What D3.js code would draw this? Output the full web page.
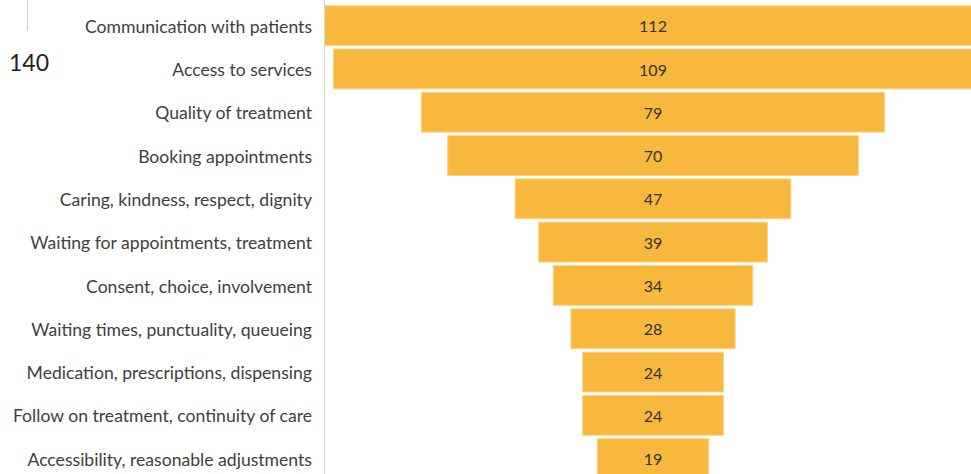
<!DOCTYPE html>
<html>
<head>
<meta charset="utf-8">
<script src="https://cdn.jsdelivr.net/npm/d3@7"></script>
<style>
  html, body { margin: 0; padding: 0; background: #fff; }
  svg { display: block; }
</style>
</head>
<body>
<svg id="chart" width="971" height="474"></svg>
<script>
const categories = [
  "Communication with patients",
  "Access to services",
  "Quality of treatment",
  "Booking appointments",
  "Caring, kindness, respect, dignity",
  "Waiting for appointments, treatment",
  "Consent, choice, involvement",
  "Waiting times, punctuality, queueing",
  "Medication, prescriptions, dispensing",
  "Follow on treatment, continuity of care",
  "Accessibility, reasonable adjustments"
];
const values = [112, 109, 79, 70, 47, 39, 34, 28, 24, 24, 19];
const tickLabels = ["140"];

const W = 971, H = 474;
const svg = d3.select("#chart");
const font = "'Lato', 'Open Sans', sans-serif";

const maxV = d3.max(values);
const x = d3.scaleLinear().domain([-maxV / 2, maxV / 2]).range([324.5, 981.5]);
const y = d3.scaleBand().domain(categories).range([4, 4 + 11 * 43.3]).paddingInner(0.08).paddingOuter(0.04);

const data = categories.map((c, i) => ({ c, v: values[i] }));

// bars
svg.append("g").selectAll("rect").data(data).join("rect")
  .attr("x", d => x(-d.v / 2))
  .attr("y", d => y(d.c))
  .attr("width", d => x(d.v / 2) - x(-d.v / 2))
  .attr("height", y.bandwidth())
  .attr("fill", "#F8B83E")
  .attr("stroke", "#FBD48C")
  .attr("stroke-width", 1);

// axis line
svg.append("line").attr("x1", 324.5).attr("x2", 324.5).attr("y1", 0).attr("y2", H)
  .attr("stroke", "#d9d9d9").attr("stroke-width", 1);

// category labels via axis
const yAxis = d3.axisLeft(y).tickSize(0).tickPadding(0);
const ag = svg.append("g").attr("transform", "translate(312,1.5)").call(yAxis);
ag.select(".domain").remove();
ag.selectAll("text")
  .attr("font-family", font)
  .attr("font-size", 17.6)
  .attr("fill", "#404040");

// value labels
svg.append("g").selectAll("text").data(data).join("text")
  .attr("x", d => x(0))
  .attr("y", d => y(d.c) + y.bandwidth() / 2 + 1)
  .attr("dy", "0.35em")
  .attr("text-anchor", "middle")
  .attr("font-family", font)
  .attr("font-size", 16)
  .attr("fill", "#333")
  .text(d => d.v);

// partial left element: small tick line and "140" label
svg.append("line").attr("x1", 27.5).attr("x2", 27.5).attr("y1", 0).attr("y2", 31)
  .attr("stroke", "#d0d0d0").attr("stroke-width", 1);
svg.append("text").attr("x", 9).attr("y", 71)
  .attr("font-family", font).attr("font-size", 23).attr("fill", "#222")
  .text(tickLabels[0]);
</script>
</body>
</html>
